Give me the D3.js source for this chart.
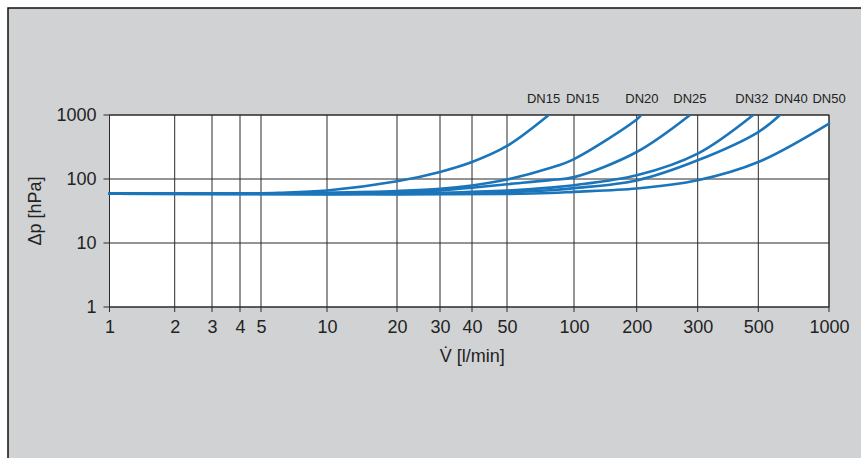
<!DOCTYPE html>
<html>
<head>
<meta charset="utf-8">
<script src="https://cdn.jsdelivr.net/npm/d3@7"></script>
<style>
  html, body { margin: 0; padding: 0; background: #fff; }
  svg { display: block; font-family: "Liberation Sans", Arial, Helvetica, sans-serif; }
</style>
</head>
<body>
<svg id="chart"></svg>
<script>
// Tick values
const flowTicks = [1, 2, 3, 4, 5, 10, 20, 30, 40, 50, 100, 200, 300, 500, 1000];
const dpTicks = [1, 10, 100, 1000];

// Curves: flow [l/min] and pressure loss [hPa]
const flowDN15 = [1, 3, 6, 10, 20, 30, 40, 50, 77];
const dpDN15   = [59, 59, 61, 66, 92, 129, 184, 328, 1000];

const flowDN20 = [1, 5, 10, 20, 30, 40, 50, 78, 100, 200, 206];
const dpDN20   = [59, 59, 61, 65, 70, 79, 98, 148, 205, 850, 1000];

const flowDN25 = [1, 5, 10, 20, 30, 40, 50, 78, 100, 200, 285];
const dpDN25   = [59, 59, 60, 62.5, 66.5, 73, 82.7, 96, 107, 264, 1000];

const flowDN32 = [1, 10, 20, 30, 50, 78, 100, 200, 300, 479];
const dpDN32   = [59, 58.5, 59.5, 61, 66, 73.4, 80, 114, 249, 1000];

const flowDN40 = [1, 10, 20, 30, 50, 78, 100, 200, 300, 500, 618];
const dpDN40   = [59, 58, 58.5, 59.5, 62, 66.6, 72, 95, 196, 542, 1000];

const flowDN50 = [1, 10, 20, 50, 78, 100, 200, 300, 500, 1000];
const dpDN50   = [59, 58, 57.5, 58.5, 60.4, 63, 71, 95.5, 184, 734];

// Labels above the plot, placed at a flow value
const labelNames = ["DN15", "DN15", "DN20", "DN25", "DN32", "DN40", "DN50"];
const labelFlow  = [73, 110, 207, 285, 474, 689, 1000];

const W = 861, H = 458;
const margin = {left: 109.5, top: 115};
const plotW = 719.5, plotH = 192;
const blue = "#1b75bb";

const svg = d3.select("#chart").attr("width", W).attr("height", H);

// grey panel with dark top/left edge
svg.append("rect")
    .attr("x", 8).attr("y", 8)
    .attr("width", 900).attr("height", 500)
    .attr("fill", "#d1d2d4")
    .attr("stroke", "#111")
    .attr("stroke-width", 1.5);

const g = svg.append("g").attr("transform", `translate(${margin.left},${margin.top})`);

// the printed axis is not a clean log axis, so calibrate it segment by segment
const x = d3.scaleLog()
    .domain(flowTicks)
    .range([0, 65.2, 102.5, 130.5, 151.5, 217.5, 287.5, 330.5, 362.5, 397.5, 464.5, 527.2, 588.2, 648.8, 719.5]);

const y = d3.scaleLog()
    .domain([1, 1000])
    .range([plotH, 0]);

g.append("rect")
    .attr("width", plotW).attr("height", plotH)
    .attr("fill", "#fff");

// grid
g.append("g")
    .attr("class", "grid")
    .selectAll("line.v")
    .data(flowTicks)
    .enter()
    .append("line")
    .attr("x1", d => x(d)).attr("x2", d => x(d))
    .attr("y1", 0).attr("y2", plotH + 5)
    .attr("stroke", "#2a2a2a")
    .attr("stroke-width", 1);

g.append("g")
    .selectAll("line.h")
    .data(dpTicks)
    .enter()
    .append("line")
    .attr("x1", -6).attr("x2", plotW)
    .attr("y1", d => y(d)).attr("y2", d => y(d))
    .attr("stroke", "#2a2a2a")
    .attr("stroke-width", 1);

g.append("rect")
    .attr("width", plotW).attr("height", plotH)
    .attr("fill", "none")
    .attr("stroke", "#2a2a2a")
    .attr("stroke-width", 1);

// axes (labels only, lines drawn above)
const xAxis = g.append("g")
    .attr("transform", `translate(0,${plotH})`)
    .call(d3.axisBottom(x).tickValues(flowTicks).tickFormat(d3.format("d")).tickSize(0).tickPadding(13));
xAxis.select(".domain").remove();
xAxis.selectAll("text").attr("font-size", 18).attr("fill", "#222").attr("font-family", null);

const yAxis = g.append("g")
    .call(d3.axisLeft(y).tickValues(dpTicks).tickFormat(d3.format("d")).tickSize(0).tickPadding(13));
yAxis.select(".domain").remove();
yAxis.selectAll("text").attr("font-size", 18).attr("fill", "#222").attr("font-family", null);

// axis titles
svg.append("text")
    .attr("x", margin.left + plotW / 2 + 3)
    .attr("y", 362)
    .attr("text-anchor", "middle")
    .attr("font-size", 18)
    .attr("fill", "#222")
    .text("V\u0307 [l/min]");

svg.append("text")
    .attr("transform", `translate(41,${margin.top + plotH / 2}) rotate(-90)`)
    .attr("text-anchor", "middle")
    .attr("font-size", 18)
    .attr("fill", "#222")
    .text("Δp [hPa]");

// curves
const curves = [
    [flowDN15, dpDN15],
    [flowDN20, dpDN20],
    [flowDN25, dpDN25],
    [flowDN32, dpDN32],
    [flowDN40, dpDN40],
    [flowDN50, dpDN50]
].map(([f, p]) => f.map((v, i) => ({flow: v, dp: p[i]})));

const line = d3.line()
    .x(d => x(d.flow))
    .y(d => y(d.dp))
    .curve(d3.curveCatmullRom.alpha(0.5));

g.append("defs").append("clipPath").attr("id", "plotClip")
    .append("rect").attr("x", -2).attr("y", 0).attr("width", plotW + 4).attr("height", plotH);

g.append("g")
    .attr("clip-path", "url(#plotClip)")
    .selectAll("path.curve")
    .data(curves)
    .enter()
    .append("path")
    .attr("class", "curve")
    .attr("d", line)
    .attr("fill", "none")
    .attr("stroke", blue)
    .attr("stroke-width", 2.6)
    .attr("stroke-linecap", "round");

// size labels
g.selectAll("text.dn")
    .data(labelNames)
    .enter()
    .append("text")
    .attr("class", "dn")
    .attr("x", (d, i) => x(labelFlow[i]))
    .attr("y", -12)
    .attr("text-anchor", "middle")
    .attr("font-size", 13)
    .attr("fill", "#222")
    .text(d => d);
</script>
</body>
</html>
